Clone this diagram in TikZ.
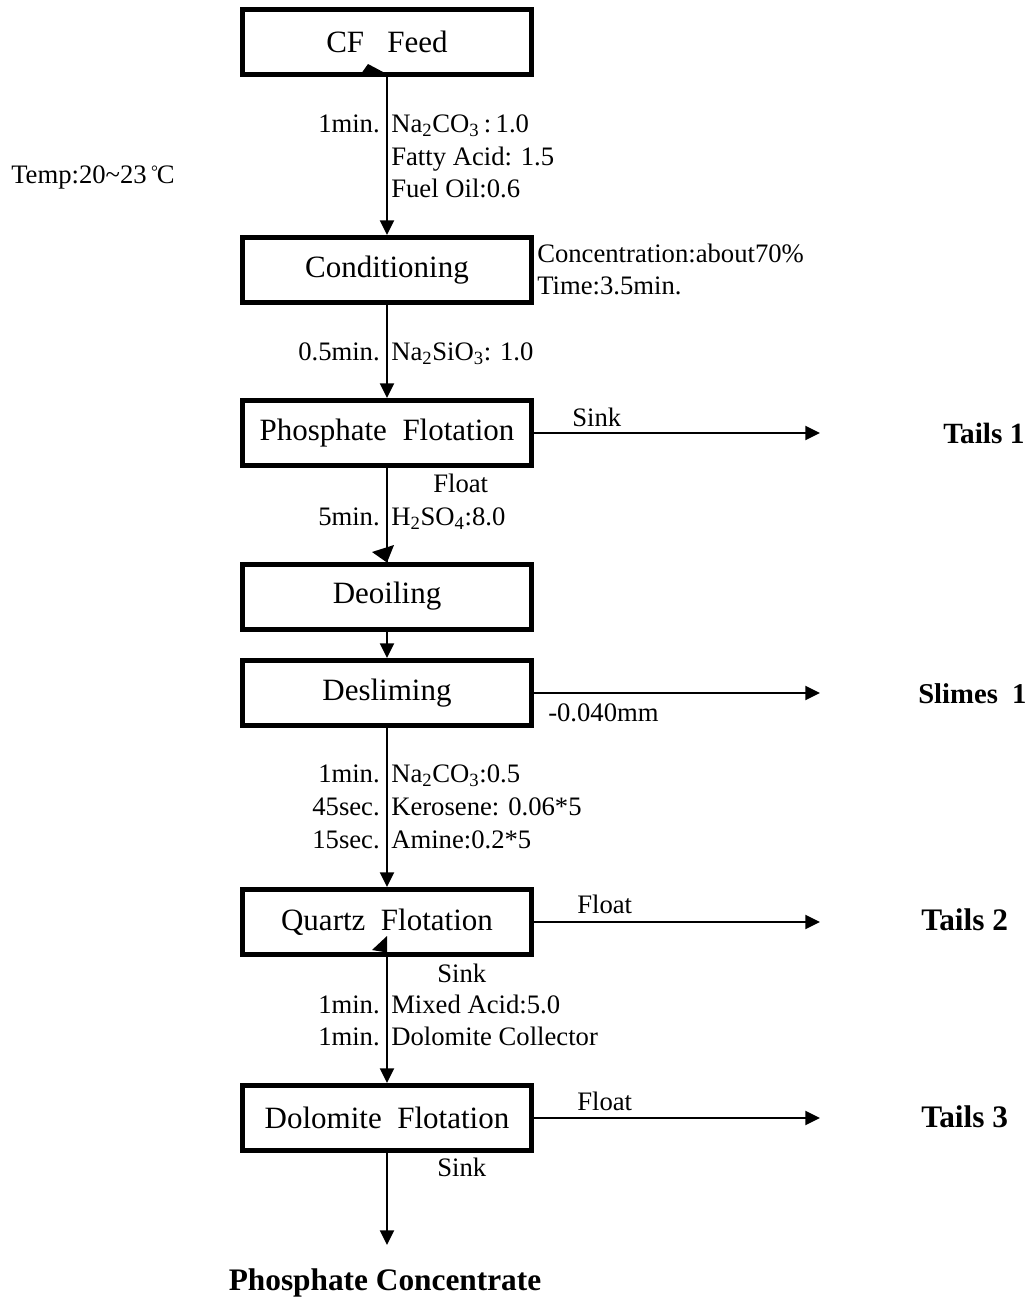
\documentclass[tikz,border=0pt]{standalone}
\usepackage{fontspec}
\setmainfont{Liberation Serif}
\usetikzlibrary{arrows.meta}
\newcommand{\sub}[1]{\textsubscript{#1}}

\begin{document}
\begin{tikzpicture}[x=0.75pt,y=-0.75pt,
  stage/.style={draw, line width=3.75pt, minimum width=216.75pt, minimum height=48.75pt,
    inner sep=0pt, font=\fontsize{23.25}{28}\selectfont},
  flow/.style={line width=1.5pt, -{Triangle[length=11pt,width=10.5pt]}},
  note/.style={inner sep=0pt, font=\fontsize{20}{24}\selectfont},
  product/.style={inner sep=0pt, font=\fontsize{23.5}{28}\selectfont\bfseries}
]
\useasboundingbox (0,0) rectangle (1026,1299);

% process stages
\node[stage] (feed)    at (387,41.5) {CF\ \ \ Feed};
\node[stage] (cond)    at (387,270)  {Conditioning};
\node[stage] (phos)    at (387,433)  {Phosphate\ \ Flotation};
\node[stage] (deoil)   at (387,596.5){Deoiling};
\node[stage] (deslime) at (387,693)  {Desliming};
\node[stage] (quartz)  at (387,922)  {Quartz\ \ Flotation};
\node[stage] (dolo)    at (387,1118) {Dolomite\ \ Flotation};

% free ends of the product streams
\coordinate (tails1) at (820,433);
\coordinate (slimes) at (820,693);
\coordinate (tails2) at (820,922);
\coordinate (tails3) at (820,1118);
\coordinate (conc)   at (387,1245);

% main line
\draw[flow] (feed) -- (cond);
\draw[flow] (cond) -- (phos);
\draw[line width=1.5pt] (phos) -- (deoil);
\draw[flow] (deoil) -- (deslime);
\draw[flow] (deslime) -- (quartz);
\draw[flow] (quartz) -- (dolo);
\draw[flow] (dolo) -- (conc);

% side streams
\draw[flow] (phos) -- (tails1);
\draw[flow] (deslime) -- (slimes);
\draw[flow] (quartz) -- (tails2);
\draw[flow] (dolo) -- (tails3);

% stray arrow heads
\fill (368,64) -- (362,72.5) -- (384,72.5) -- cycle;
\fill (372,552) -- (394,545) -- (387,562.5) -- cycle;
\fill (387,936) -- (372,950) -- (387,952.5) -- cycle;

% reagents and times
\node[note, anchor=base east] (tm1) at (380,132) {1min.};
\node[note, anchor=base west] (r1a) at (391,132) {Na\sub{2}CO\sub{3}\,:\,1.0};
\node[note, anchor=base west] (r1b) at (391,165) {Fatty Acid: 1.5};
\node[note, anchor=base west] (r1c) at (391,197) {Fuel Oil:0.6};

\node[note, anchor=base west] (temp) at (11,183) {Temp:20\textasciitilde 23\,\raisebox{4pt}{\fontsize{13}{13}\selectfont°}\kern-1pt C};

\node[note, anchor=base west] (c1) at (537,262) {Concentration:about70\%};
\node[note, anchor=base west] (c2) at (537,294) {Time:3.5min.};

\node[note, anchor=base east] (tm2) at (380,360) {0.5min.};
\node[note, anchor=base west] (r2)  at (391,360) {Na\sub{2}SiO\sub{3}: 1.0};

\node[note, anchor=base west] (s1) at (572,426) {Sink};
\node[note, anchor=base west] (f1) at (433,492) {Float};
\node[note, anchor=base east] (tm3) at (380,525) {5min.};
\node[note, anchor=base west] (r3)  at (391,525) {H\sub{2}SO\sub{4}:8.0};

\node[note, anchor=base west] (mesh) at (548,721) {-0.040mm};

\node[note, anchor=base east] (tm4) at (380,782) {1min.};
\node[note, anchor=base west] (r4a) at (391,782) {Na\sub{2}CO\sub{3}:0.5};
\node[note, anchor=base east] (tm5) at (380,815) {45sec.};
\node[note, anchor=base west] (r4b) at (391,815) {Kerosene: 0.06*5};
\node[note, anchor=base east] (tm6) at (380,848) {15sec.};
\node[note, anchor=base west] (r4c) at (391,848) {Amine:0.2*5};

\node[note, anchor=base west] (f2) at (577,913) {Float};
\node[note, anchor=base west] (s2) at (437,982) {Sink};
\node[note, anchor=base east] (tm7) at (380,1013) {1min.};
\node[note, anchor=base west] (r5a) at (391,1013) {Mixed Acid:5.0};
\node[note, anchor=base east] (tm8) at (380,1045) {1min.};
\node[note, anchor=base west] (r5b) at (391,1045) {Dolomite Collector};

\node[note, anchor=base west] (f3) at (577,1110) {Float};
\node[note, anchor=base west] (s3) at (437,1176) {Sink};

% products
\node[product, anchor=base west, font=\fontsize{22}{26}\selectfont\bfseries] (p1) at (943,443) {Tails 1};
\node[product, anchor=base west, font=\fontsize{21.5}{26}\selectfont\bfseries] (p2) at (918,703) {Slimes\ \ 1};
\node[product, anchor=base west] (p3) at (921,930) {Tails 2};
\node[product, anchor=base west] (p4) at (921,1127) {Tails 3};
\node[product, anchor=base] (p5) at (385,1290) {Phosphate Concentrate};
\end{tikzpicture}
\end{document}
